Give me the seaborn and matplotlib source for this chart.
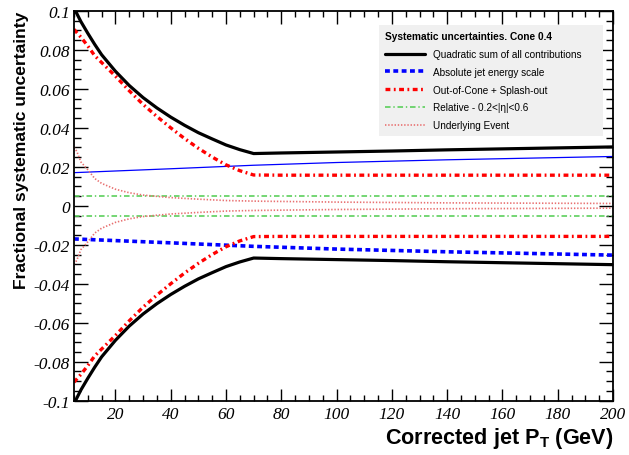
import numpy as np
import matplotlib
matplotlib.use("Agg")
import matplotlib.pyplot as plt
import seaborn as sns
from matplotlib.ticker import MultipleLocator

# jet pT grid (GeV) and fractional uncertainties (+/- symmetric)
pt = [5, 7.5, 10, 12.5, 15, 20, 25, 30, 35, 40, 45, 50, 55, 60, 65, 70,
      80, 100, 120, 140, 160, 180, 200]
total = [0.1015, 0.0945, 0.0885, 0.0828, 0.0775, 0.0690, 0.0617, 0.0555, 0.0502,
         0.0455, 0.0413, 0.0375, 0.0343, 0.0312, 0.0288, 0.0268,
         0.0271, 0.0276, 0.0281, 0.0287, 0.0292, 0.0297, 0.0302]
out_of_cone = [0.0905, 0.0865, 0.0820, 0.0770, 0.0735, 0.0665, 0.0590, 0.0520, 0.0458,
               0.0400, 0.0345, 0.0295, 0.0250, 0.0210, 0.0180, 0.0158,
               0.0157, 0.0157, 0.0157, 0.0157, 0.0157, 0.0157, 0.0157]

jes_pt = [5, 40, 70, 100, 140, 200]
jes = [0.0170, 0.0190, 0.0208, 0.0222, 0.0236, 0.0253]

rel_pt = [5, 200]
rel = [0.005, 0.005]

ue_pt = [5, 6, 7.5, 10, 12.5, 15, 20, 25, 30, 40, 50, 60, 70, 100, 140, 200]
ue = [0.030, 0.028, 0.0225, 0.0185, 0.0140, 0.0115, 0.0085, 0.0067, 0.0055,
      0.0042, 0.0034, 0.0027, 0.0024, 0.0019, 0.0015, 0.0012]

y_ticks = [0.1, 0.08, 0.06, 0.04, 0.02, 0, -0.02, -0.04, -0.06, -0.08, -0.1]
y_labels = ["0.1", "0.08", "0.06", "0.04", "0.02", "0", "-0.02", "-0.04", "-0.06", "-0.08", "-0.1"]
x_ticks = [20, 40, 60, 80, 100, 120, 140, 160, 180, 200]

sns.set_style("ticks")
plt.rcParams["font.family"] = ["Liberation Sans", "DejaVu Sans"]
plt.rcParams["mathtext.fontset"] = "custom"
plt.rcParams["mathtext.bf"] = "Liberation Sans:bold"
plt.rcParams["mathtext.rm"] = "Liberation Sans"
plt.rcParams["lines.scale_dashes"] = False
for key in ["text.color", "axes.labelcolor", "xtick.color", "ytick.color", "axes.edgecolor"]:
    plt.rcParams[key] = "black"

fig = plt.figure(figsize=(6.29, 4.56), dpi=100)
ax = fig.add_axes([0.1176, 0.119, 0.857, 0.855])

black, blue, red = "#000000", "#0000ff", "#ff0000"
green, pink = "#5ccf5c", "#e87070"

pt_a, tot_a, ooc_a = np.array(pt), np.array(total), np.array(out_of_cone)
jes_a, rel_a, ue_a = np.array(jes), np.array(rel), np.array(ue)

sns.lineplot(x=pt_a, y=tot_a, ax=ax, color=black, lw=2.3, label="Quadratic sum of all contributions")
sns.lineplot(x=pt_a, y=-tot_a, ax=ax, color=black, lw=2.3)

sns.lineplot(x=jes_pt, y=jes_a, ax=ax, color=blue, lw=0.9)
l = sns.lineplot(x=jes_pt, y=-jes_a, ax=ax, color=blue, lw=2.6, label="Absolute jet energy scale")
l.lines[-1].set_dashes((3.5, 2.5))

sns.lineplot(x=pt_a, y=ooc_a, ax=ax, color=red, lw=2.4).lines[-1].set_dashes((3.5, 2.5, 1.3, 2.5))
sns.lineplot(x=pt_a, y=-ooc_a, ax=ax, color=red, lw=2.4,
             label="Out-of-Cone + Splash-out").lines[-1].set_dashes((3.5, 2.5, 1.3, 2.5))

sns.lineplot(x=rel_pt, y=rel_a, ax=ax, color=green, lw=1.2,
             label="Relative - 0.2<|\u03b7|<0.6").lines[-1].set_dashes((4, 2, 1, 2))
sns.lineplot(x=rel_pt, y=-rel_a, ax=ax, color=green, lw=1.2).lines[-1].set_dashes((4, 2, 1, 2))

sns.lineplot(x=ue_pt, y=ue_a, ax=ax, color=pink, lw=1.2,
             label="Underlying Event").lines[-1].set_dashes((1, 1.3))
sns.lineplot(x=ue_pt, y=-ue_a, ax=ax, color=pink, lw=1.2).lines[-1].set_dashes((1, 1.3))

ax.set_xlim(5, 200)
ax.set_ylim(-0.1, 0.1)
ax.set_xticks(x_ticks)
ax.set_xticklabels([str(t) for t in x_ticks])
ax.set_yticks(y_ticks)
ax.set_yticklabels(y_labels)
ax.xaxis.set_minor_locator(MultipleLocator(5))
ax.yaxis.set_minor_locator(MultipleLocator(0.005))
ax.tick_params(which="both", direction="in", top=True, right=True, width=1.0)
ax.tick_params(which="major", axis="x", length=9, pad=4)
ax.tick_params(which="minor", axis="x", length=4.5)
ax.tick_params(which="major", axis="y", length=10, pad=3)
ax.tick_params(which="minor", axis="y", length=5)
for lab in ax.get_xticklabels() + ax.get_yticklabels():
    lab.set_fontfamily("Liberation Serif")
    lab.set_fontstyle("italic")
    lab.set_fontsize(12.5)
for sp in ax.spines.values():
    sp.set_linewidth(1.3)

ax.set_xlabel(r"Corrected jet P$_\mathbf{T}$ (GeV)", loc="right", fontsize=15.6,
              fontweight="bold", labelpad=2)
ax.set_ylabel("Fractional systematic uncertainty", loc="top", fontsize=12.6,
              fontweight="bold", labelpad=3.5)

handles, labels = ax.get_legend_handles_labels()
leg = ax.legend(handles, labels, title="Systematic uncertainties. Cone 0.4",
                loc="upper left", bbox_to_anchor=(0.5659, 0.70, 0.4156, 0.263),
                mode="expand", fontsize=7.2,
                title_fontproperties={"weight": "bold", "size": 7.3},
                frameon=True, fancybox=False, facecolor="#f0f0f0", edgecolor="none",
                framealpha=1, handlelength=4.0, handletextpad=0.8, labelspacing=0.78,
                borderpad=0.6, borderaxespad=0, alignment="left")

fig.savefig("out.png", dpi=100)
